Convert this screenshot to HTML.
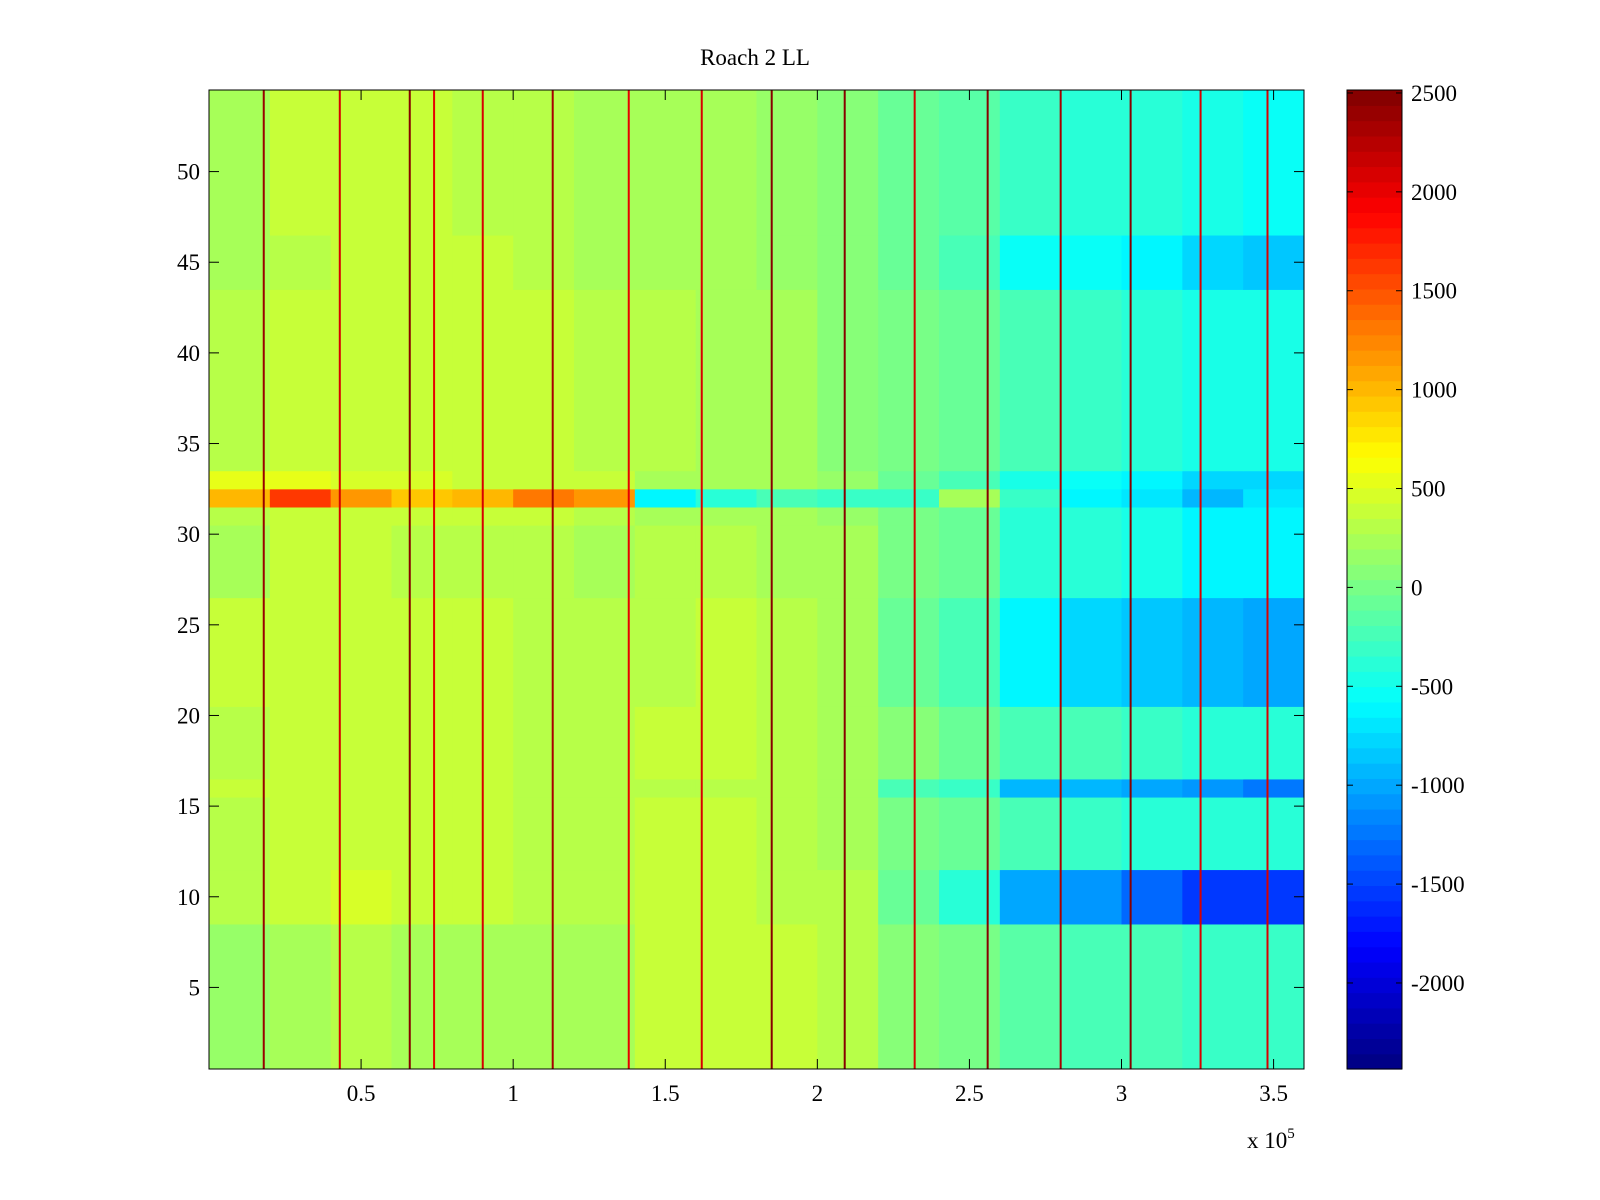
<!DOCTYPE html>
<html>
<head>
<meta charset="utf-8">
<style>
html,body{margin:0;padding:0;background:#fff;}
svg{display:block;}
text{font-family:"Liberation Serif",serif;font-size:23px;fill:#000;}
</style>
</head>
<body>
<svg id="chart" width="1600" height="1200" viewBox="0 0 1600 1200">
<rect width="1600" height="1200" fill="#fff"/>
<text x="755" y="65" text-anchor="middle">Roach 2 LL</text>
<g id="cells"></g>
<g id="lines"></g>
<rect x="209" y="90" width="1095" height="979" fill="none" stroke="#000" stroke-width="1"/>
<g id="xaxis"></g>
<g id="yaxis"></g>
<text x="1247" y="1148">x 10<tspan dy="-10" font-size="15">5</tspan></text>
<g id="cbar"></g>
</svg>
<script>
// ---- data ----
const colEdges = [0,20000,40000,60000,80000,100000,120000,140000,160000,180000,200000,220000,240000,260000,280000,300000,320000,340000,360000];
const bandRows = [[1,8],[9,11],[12,15],[16,16],[17,20],[21,26],[27,30],[31,31],[32,32],[33,33],[34,43],[44,46],[47,54]];
const band1 = [150,250,300,250,200,200,200,350,400,350,300,100,0,-150,-200,-250,-300,-300];
const band2 = [300,400,450,350,350,300,300,350,350,300,300,-100,-400,-1000,-1100,-1300,-1550,-1550];
const band3 = [300,350,400,350,350,300,300,350,350,300,250,0,-100,-250,-300,-350,-400,-400];
const band4 = [350,400,400,350,350,300,300,300,300,300,200,-200,-300,-900,-900,-1000,-1100,-1200];
const band5 = [300,350,400,350,350,300,300,350,350,300,250,50,-50,-200,-250,-300,-350,-400];
const band6 = [350,350,400,350,350,300,300,300,350,300,200,-100,-250,-650,-750,-850,-950,-1000];
const band7 = [250,350,350,300,300,300,250,300,300,250,200,0,-100,-350,-350,-450,-600,-650];
const band8 = [300,400,400,350,350,350,300,250,250,200,150,0,-100,-350,-350,-450,-650,-650];
const band9 = [1000,1600,1200,900,1000,1300,1200,-600,-400,-200,-300,-300,200,-300,-600,-700,-900,-700];
const band10 = [550,550,450,450,350,350,350,250,250,200,150,-100,-200,-450,-550,-650,-800,-800];
const band11 = [300,350,400,350,350,350,300,300,250,200,100,0,-100,-250,-300,-400,-450,-450];
const band12 = [250,300,400,350,350,300,250,250,200,150,50,-100,-200,-550,-550,-650,-750,-850];
const band13 = [250,350,350,350,300,300,250,250,200,150,50,-50,-150,-300,-350,-400,-500,-550];
const bandValues = [band1,band2,band3,band4,band5,band6,band7,band8,band9,band10,band11,band12,band13];
const stripeX = [18000,43000,66000,74000,90000,113000,138000,162000,185000,209000,232000,256000,280000,303000,326000,348000];
const stripeVal = [2400,2100,2450,2000,2100,2300,2000,2100,2450,2450,2100,2450,2300,2450,2100,2100];
const xTicks = [50000,100000,150000,200000,250000,300000,350000];
const xTickLabels = ["0.5","1","1.5","2","2.5","3","3.5"];
const yTicks = [5,10,15,20,25,30,35,40,45,50];
const cTicks = [2500,2000,1500,1000,500,0,-500,-1000,-1500,-2000];

// ---- axes ----
const X0=209,X1=1304,Y0=90,Y1=1069;
const xMin=0,xMax=360000,yMin=0.5,yMax=54.5,cMin=-2435,cMax=2515;
const xs=v=>X0+(v-xMin)/(xMax-xMin)*(X1-X0);
const ys=v=>Y1-(v-yMin)/(yMax-yMin)*(Y1-Y0);
const CB0=1347,CB1=1402;
const cs=v=>Y1-(v-cMin)/(cMax-cMin)*(Y1-Y0);
function jet(t){t=Math.max(0,Math.min(1,t));
 const f=x=>Math.round(255*Math.max(0,Math.min(1,1.5-Math.abs(4*t-x))));
 return `rgb(${f(3)},${f(2)},${f(1)})`;}
function jetq(v){let t=(v-cMin)/(cMax-cMin);t=(Math.floor(t*64)+0.5)/64;return jet(t);}
const NS="http://www.w3.org/2000/svg";
function mk(tag,attrs,parent){const e=document.createElementNS(NS,tag);for(const k in attrs)e.setAttribute(k,attrs[k]);parent.appendChild(e);return e;}

const cells=document.getElementById('cells');
bandRows.forEach((br,bi)=>{
 bandValues[bi].forEach((v,ci)=>{
  const r=mk('rect',{x:xs(colEdges[ci]),y:ys(br[1]+0.5),width:xs(colEdges[ci+1])-xs(colEdges[ci])+0.5,height:ys(br[0]-0.5)-ys(br[1]+0.5)+0.5,fill:jetq(v)},cells);
  
  
 });
});
const lines=document.getElementById('lines');
stripeX.forEach((x,i)=>{
 const r=mk('rect',{x:xs(x)-1,y:Y0,width:2,height:Y1-Y0,fill:jetq(stripeVal[i])},lines);
 
 
});
const xa=document.getElementById('xaxis');
xTicks.forEach((t,i)=>{
 const x=xs(t);
 mk('line',{x1:x,x2:x,y1:Y1,y2:Y1-10,stroke:'#000'},xa);
 mk('line',{x1:x,x2:x,y1:Y0,y2:Y0+10,stroke:'#000'},xa);
 const tx=mk('text',{x:x,y:1101,'text-anchor':'middle'},xa);tx.textContent=xTickLabels[i];
 
 
});
const ya=document.getElementById('yaxis');
yTicks.forEach(t=>{
 const y=ys(t);
 mk('line',{x1:X0,x2:X0+10,y1:y,y2:y,stroke:'#000'},ya);
 mk('line',{x1:X1,x2:X1-10,y1:y,y2:y,stroke:'#000'},ya);
 const tx=mk('text',{x:200,y:y+8,'text-anchor':'end'},ya);tx.textContent=t;
 
 
});
const cb=document.getElementById('cbar');
for(let i=0;i<64;i++){
 const v0=cMin+(cMax-cMin)*i/64,v1=cMin+(cMax-cMin)*(i+1)/64;
 mk('rect',{x:CB0,y:cs(v1),width:CB1-CB0,height:cs(v0)-cs(v1)+0.6,fill:jet((i+0.5)/64)},cb);
}
mk('rect',{x:CB0,y:Y0,width:CB1-CB0,height:Y1-Y0,fill:'none',stroke:'#000'},cb);
cTicks.forEach(t=>{
 const y=cs(t);
 mk('line',{x1:CB0,x2:CB0+6,y1:y,y2:y,stroke:'#000'},cb);
 mk('line',{x1:CB1,x2:CB1-6,y1:y,y2:y,stroke:'#000'},cb);
 const tx=mk('text',{x:1411,y:y+8},cb);tx.textContent=t;
 
 
});
</script>
</body>
</html>
